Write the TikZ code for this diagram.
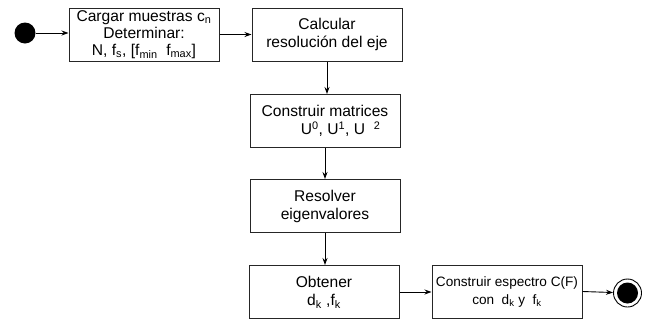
\documentclass[tikz,border=0pt]{standalone}
\usepackage{fontspec}
\setmainfont{Liberation Sans}
\usetikzlibrary{arrows.meta}
\begin{document}
\begin{tikzpicture}[x=1pt,y=-1pt,
  box/.style={draw=black!85, line width=1pt, minimum width=150pt, minimum height=53pt,
    align=center, inner sep=1pt, font=\fontsize{15.6}{18}\selectfont},
  smallbox/.style={box, font=\fontsize{13.6}{18}\selectfont},
  arr/.style={-{Stealth[length=7pt,width=5pt]}, line width=0.9pt},
  startdot/.style={circle, fill=black, minimum size=21pt, inner sep=0pt},
  enddot/.style={circle, draw=black, line width=0.9pt, fill=white, minimum size=28pt, inner sep=0pt,
    path picture={\fill[black] (path picture bounding box.center) circle (10.5pt);}}
]
\useasboundingbox (0,0) rectangle (651,325);
\node[startdot] (s) at (25,33) {};
\node[box] (b1) at (144,34.5) {Cargar muestras c\textsubscript{n}\\[-0.5pt]Determinar:\\[-1.5pt]N, f\textsubscript{s}, [f\textsubscript{min}~~f\textsubscript{max}]};
\node[box] (b2) at (327,34.5) {Calcular\\resolución del eje};
\node[box] (b3) at (325,121) {Construir matrices\\\hspace*{2em}U\textsuperscript{0}, U\textsuperscript{1}, U~~\textsuperscript{2}};
\node[box] (b4) at (325,206) {Resolver\\eigenvalores};
\node[box] (b5) at (324,292) {Obtener\\d\textsubscript{k} ,f\textsubscript{k}};
\node[smallbox] (b6) at (507,291.5) {Construir espectro C(F)\\con~~d\textsubscript{k} y~~f\textsubscript{k}};
\node[enddot] (e) at (627.5,293) {};
\draw[arr] (s) -- (s -| b1.west);
\draw[arr] (b1.east) -- (b2.west);
\draw[arr] (b2.south) -- (b2.south |- b3.north);
\draw[arr] (b3.south) -- (b4.north);
\draw[arr] (b4.south) -- (b4.south |- b5.north);
\draw[arr] (b5.east) -- (b6.west |- b5.east);
\draw[arr] (b6.east) -- (e);
\end{tikzpicture}
\end{document}
